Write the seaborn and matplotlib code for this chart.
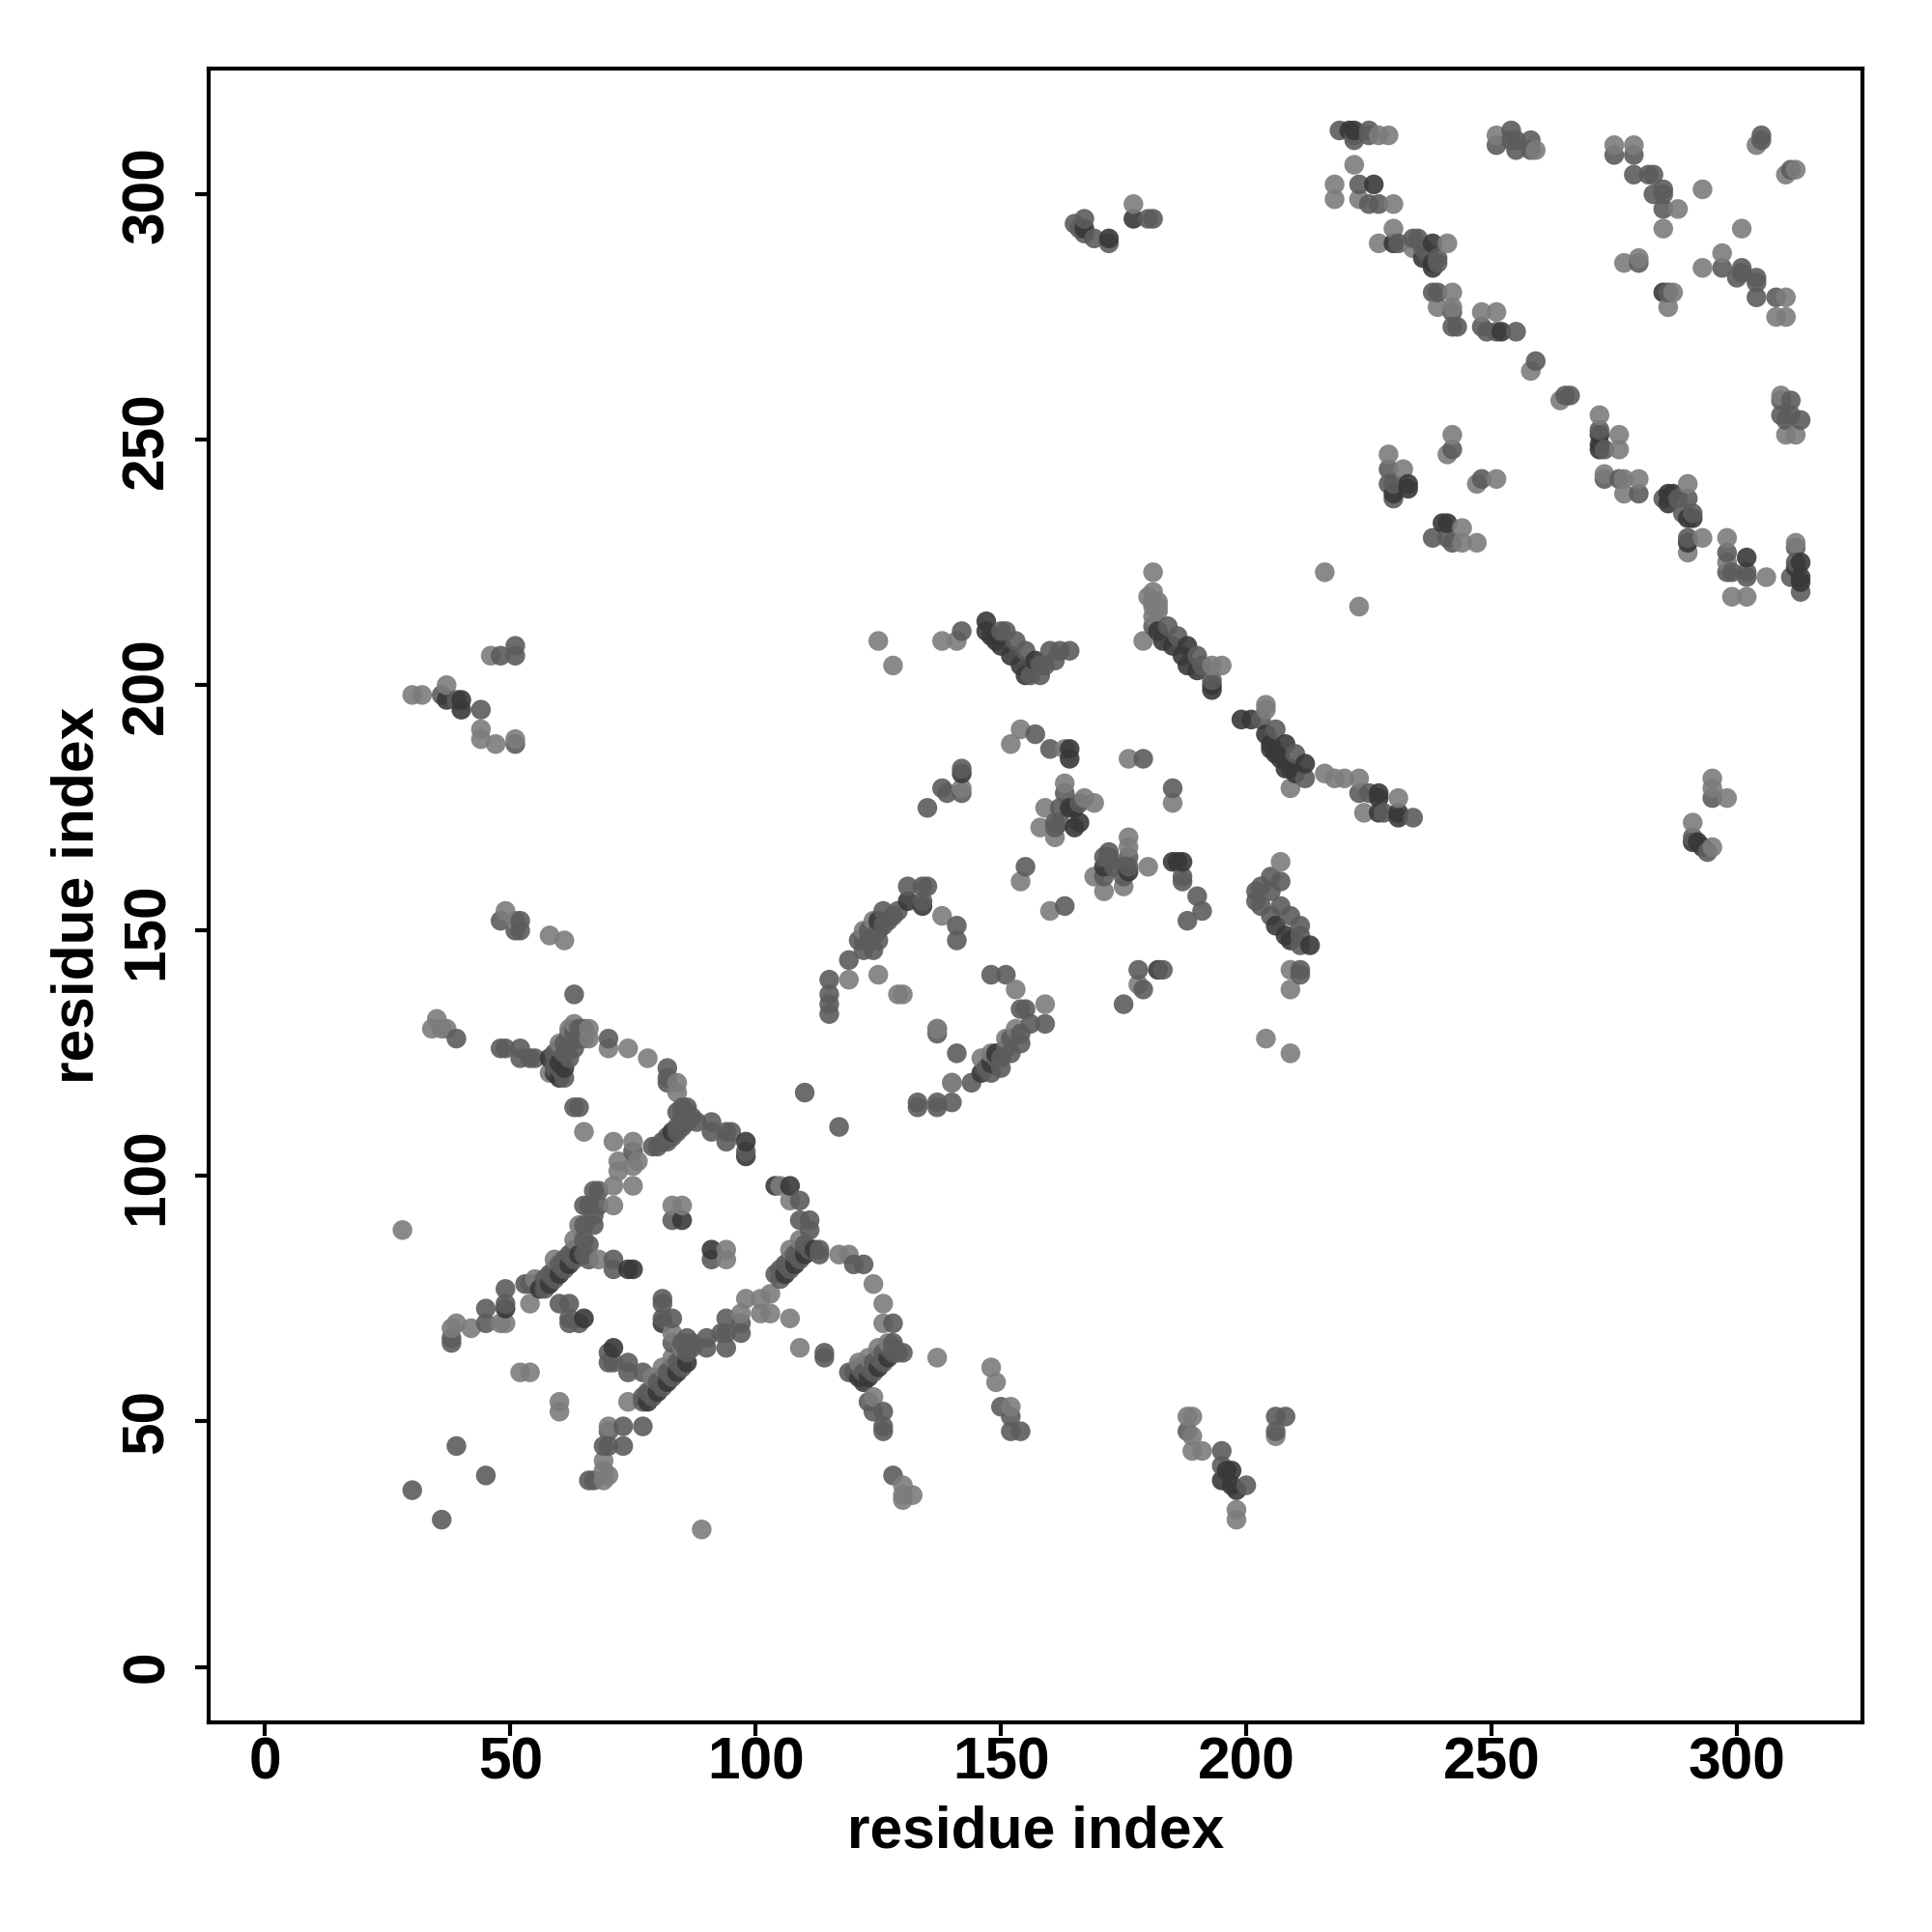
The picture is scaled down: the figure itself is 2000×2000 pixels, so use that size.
# Mapa de contactos entre residuos

import matplotlib
matplotlib.use("Agg")
import matplotlib.pyplot as plt
import pandas as pd
import seaborn as sns

# contactos (residuo i, residuo j), por tono de gris
contactos_claros = [
    (28,89),(35,132),(34,130),(36,130),(37,130),(66,128),(70,126),(74,126),(78,124),(84,119),(84,117),
    (65,109),(71,107),(75,107),(72,103),(76,103),(72,101),(75,102),(71,98),(75,98),(71,94),(64,90),
    (54,74),(68,83),(39,70),(38,69),(42,69),(48,70),(49,70),(52,60),(54,60),(60,54),(60,52),
    (70,49),(74,54),(69,42),(69,40),(70,39),(69,38),(83,68),(98,75),(101,75),(103,76),(101,72),(103,72),
    (107,71),(97,72),(109,65),(117,84),(119,84),(124,78),(126,74),(126,70),(137,63),(124,55),
    (130,37),(130,34),(132,35),(130,35),(89,28),(83,94),(85,94),(94,85),(94,83),(105,98),(107,95),
    (119,140),(129,137),(130,137),(137,130),(140,119),(125,209),(128,204),(138,209),(141,209),
    (182,216),(181,223),(181,219),(182,217),(179,209),(193,204),(195,204),(204,196),(204,195),
    (216,182),(218,181),(220,181),(223,181),(209,179),(224,174),(231,177),(223,216),(216,223),
    (154,191),(152,188),(163,187),(176,185),(185,176),(142,179),(163,180),(167,177),(169,176),(159,175),
    (158,171),(161,169),(176,169),(176,167),(180,163),(169,161),(171,158),(175,159),(154,160),(160,154),
    (138,153),(125,141),(153,138),(159,135),(137,130),(140,119),(204,128),(209,125),(207,164),(209,138),
    (178,139),(209,142),(51,189),(47,188),(44,189),(30,198),(32,198),(37,200),(44,191),(46,206),(51,152),
    (49,154),(58,149),(61,148),(148,61),(149,58),(152,53),(188,51),(189,51),(189,47),(189,44),(191,44),
    (198,32),(198,30),(206,47),(177,298),(222,306),(218,302),(218,299),(223,299),(230,298),(230,293),
    (227,290),(241,290),(234,289),(242,280),(239,277),(242,277),(248,276),(251,276),(259,309),
    (251,312),(275,310),(279,310),(288,297),(285,293),(293,301),(301,293),(277,286),(280,287),(287,280),
    (286,277),(293,285),(297,288),(308,275),(310,275),(310,279),(312,305),(310,304),(304,310),(229,247),
    (232,244),(242,251),(241,247),(247,241),(251,242),(244,232),(244,229),(247,229),(229,312),(227,312),
    (258,264),(264,258),(272,255),(276,251),(276,248),(273,243),(277,242),(280,242),(277,239),(290,241),
    (293,230),(290,227),(298,230),(298,225),(306,222),(299,218),(302,218),(312,229),(309,259),(310,251),
    (312,251),(295,181),(295,179),(298,177),(295,167),(291,172),
    (79,59),(81,61),(83,63),(85,65),(55,79),(59,83),(63,87),(107,85),(109,87),(146,124),(148,125),
    (122,150),(124,152),(60,127),(62,130),(121,62),(123,63),(125,65),(127,66),(181,217),(181,216),
    (182,215),(180,218),(181,214),(153,130),(151,128),(63,131),(66,130),(58,121),
]

contactos_medios = [
    (39,128),(63,137),(48,126),(49,126),(52,126),(52,124),(54,124),(55,124),(59,125),(60,126),(61,125),
    (62,124),(62,127),(63,126),(63,129),(64,128),(64,130),(62,129),(63,130),(65,130),(65,128),(61,127),
    (70,128),(82,122),(82,120),(82,119),(63,114),(64,114),(75,105),(79,106),(80,106),(81,107),(82,107),
    (82,108),(83,108),(84,109),(84,110),(85,110),(85,111),(85,112),(86,111),(86,113),(84,113),(85,114),
    (86,114),(87,112),(88,111),(91,111),(91,109),(94,109),(95,109),(94,107),(98,105),(67,97),(68,97),
    (66,94),(68,94),(65,94),(67,92),(67,90),(65,90),(53,78),(54,78),(55,78),(57,77),(57,79),
    (58,80),(59,79),(59,81),(60,82),(61,81),(61,83),(62,84),(63,83),(63,85),
    (65,84),(65,87),(66,86),(66,83),(71,83),(71,81),(49,77),(49,74),(45,73),(45,70),(38,66),
    (38,67),(60,74),(62,74),(62,70),(62,71),(64,70),(81,75),(81,74),(81,71),(83,71),(83,66),(94,71),
    (104,80),(105,79),(105,81),(106,82),(107,81),(107,83),(108,84),(109,83),(109,85),
    (110,86),(111,85),(113,85),(113,84),(109,95),(109,91),(111,91),(111,89),(120,82),
    (122,82),(128,70),(128,66),(130,64),(128,65),(114,64),(114,63),(119,60),(120,60),(121,61),(122,60),
    (123,61),(124,60),(124,62),(125,63),(126,62),(126,64),(127,65),(128,64),(129,64),(123,54),(124,52),
    (126,52),(126,49),(126,48),(128,39),(70,64),(70,62),(71,62),(74,62),(74,60),(77,55),(78,56),(79,57),
    (80,58),(81,59),(82,60),(83,61),(84,62),(85,63),(86,64),(87,65),(85,66),(86,67),(77,60),(77,54),
    (90,67),(90,65),(93,68),(94,65),(94,68),(97,68),(97,70),(87,66),(70,48),(73,49),(77,49),(73,45),
    (69,45),(70,45),(66,38),(67,38),(39,45),(45,39),(30,36),(36,30),(83,91),(91,83),(115,140),(115,137),
    (115,135),(115,133),(141,125),(133,115),(133,114),(137,115),(137,114),(140,115),(110,117),
    (117,110),(142,211),(150,211),(151,211),(153,209),(155,207),(160,207),(161,205),(164,207),(162,207),
    (158,204),(159,204),(158,202),(156,202),(181,212),(184,212),(186,210),(190,206),(191,204),(193,201),
    (203,193),(206,191),(210,186),(212,181),(223,178),(225,178),(228,174),(234,173),(157,190),(160,187),
    (179,185),(185,179),(142,183),(142,178),(138,179),(139,178),(135,175),(163,178),(162,175),(166,176),
    (161,171),(161,172),(162,172),(172,166),(171,165),(172,165),(173,163),(175,163),(176,163),(171,161),
    (175,161),(176,165),(187,161),(187,160),(190,157),(191,154),(188,152),(155,163),(163,155),(131,159),
    (134,159),(135,159),(134,156),(129,154),(126,154),(127,152),(125,150),(123,150),(125,148),(122,148),
    (121,148),(122,146),(119,144),(141,151),(141,148),(148,141),(151,141),(155,134),(154,134),(159,131),
    (156,131),(154,129),(152,128),(154,127),(151,126),(152,125),(150,124),(150,122),(148,121),(144,119),
    (137,129),(205,161),(203,159),(202,158),(202,156),(205,158),(203,155),(207,160),(207,155),(205,153),
    (209,153),(211,151),(211,149),(211,147),(178,142),(183,142),(179,138),(175,135),(211,142),(211,141),
    (219,313),(225,313),(225,312),(223,302),(225,298),(227,298),(231,290),(234,291),(235,291),(236,289),
    (237,288),(239,287),(239,286),(238,280),(239,280),(242,276),(242,273),(243,273),(248,273),(249,272),
    (251,272),(255,272),(259,266),(265,259),(266,259),(272,252),(273,248),(273,242),(276,242),(280,239),
    (285,238),(288,238),(290,238),(291,235),(289,235),(290,230),(298,227),(298,223),(299,223),(302,223),
    (302,222),(312,228),(312,225),(311,222),(313,219),(309,258),(311,258),(309,255),(310,254),(311,255),
    (313,254),(251,310),(254,313),(254,311),(255,311),(255,309),(258,311),(258,309),(275,308),(279,308),
    (279,304),(282,304),(283,304),(283,300),(285,301),(285,300),(285,297),(280,286),(286,280),(297,285),
    (301,285),(301,284),(300,283),(304,283),(304,282),(304,279),(308,279),(305,312),(305,311),(311,305),
    (229,244),(229,241),(230,241),(230,238),(242,248),(248,242),(238,230),(241,230),(242,229),(222,311),
    (222,312),(48,206),(51,208),(51,206),(51,188),(36,198),(39,197),(44,195),(48,152),(52,152),(52,150),
    (51,150),(150,53),(152,51),(152,48),(154,48),(195,44),(188,48),(195,41),(200,37),(206,51),(208,51),
    (206,48),(165,294),(167,292),(169,291),(172,290),(180,295),(181,295),(295,177),(291,169),(294,166),
    (167,295),(166,293),(79,55),(81,57),(83,59),(85,61),(59,122),(60,122),(61,120),(123,148),(124,149),
    (126,151),(128,153),(147,122),(149,124),(124,146),
]

contactos_oscuros = [
    (58,124),(59,121),(60,120),(60,123),(61,122),(83,109),(98,107),(98,104),
    (49,73),(65,71),(71,65),(81,70),(85,91),(91,85),(104,98),(107,98),(75,81),(74,81),(78,54),
    (80,56),(82,58),(84,60),(86,62),(121,59),(122,58),(123,59),(125,61),
    (127,63),(147,213),(147,211),(148,210),(149,209),(150,208),(152,206),(154,204),(155,202),(157,205),
    (182,211),(183,209),(185,208),(187,206),(188,204),(190,203),(188,208),(193,200),(193,199),(199,193),
    (201,193),(204,190),(205,188),(205,187),(206,186),(207,185),(208,188),(208,183),(209,183),(210,182),
    (212,184),(227,178),(227,177),(227,174),(231,174),(231,173),(164,187),(164,185),(142,182),(164,175),
    (165,175),(165,171),(166,172),(176,162),(171,163),(185,164),(186,164),(187,164),(131,156),(134,155),
    (125,152),(148,123),(146,121),(149,125),(206,151),(208,149),(209,148),(213,147),(182,142),(221,313),
    (222,313),(226,302),(230,290),(238,290),(238,286),(238,285),(236,287),(252,272),(272,251),
    (272,249),(272,248),(286,239),(287,239),(286,237),(290,234),(291,234),(290,229),(302,226),(313,225),
    (312,224),(313,222),(313,221),(285,280),(233,241),(233,240),(230,239),(241,233),(240,233),(40,197),
    (37,197),(40,195),(196,40),(197,40),(195,38),(197,37),(198,36),(172,291),(177,295),(167,293),
    (291,168),(292,168),(293,167),(56,77),(58,78),(60,80),(62,82),(64,84),(106,80),(108,82),(110,84),(112,85),
]

marcas_x = [0, 50, 100, 150, 200, 250, 300]
marcas_y = [0, 50, 100, 150, 200, 250, 300]

# tabla con todos los contactos, ordenada por residuo como en la figura
filas = []
for tono, lista in [("claro", contactos_claros), ("medio", contactos_medios), ("oscuro", contactos_oscuros)]:
    for i, j in lista:
        filas.append({"i": i, "j": j, "tono": tono})
datos = pd.DataFrame(filas).sort_values(["i", "j"], kind="stable")

sns.set_theme(style="white")
plt.rcParams["font.family"] = ["Liberation Sans", "DejaVu Sans"]

fig = plt.figure(figsize=(10, 10), dpi=200)
ax = fig.add_axes([0.108, 0.1085, 0.856, 0.8560])

sns.scatterplot(
    data=datos,
    x="i",
    y="j",
    hue="tono",
    palette={"claro": "#7c7c7c", "medio": "#5c5c5c", "oscuro": "#383838"},
    s=54,
    alpha=0.9,
    linewidth=0,
    legend=False,
    ax=ax,
)

ax.set_xlim(-11.5, 325.6)
ax.set_ylim(-11.3, 325.6)
ax.set_xticks(marcas_x)
ax.set_yticks(marcas_y)
ax.tick_params(axis="both", length=5, width=1.5, color="black", labelcolor="black", labelsize=21.8, bottom=True, left=True)
ax.tick_params(axis="x", pad=0.2)
ax.tick_params(axis="y", pad=7.3)
for etiqueta in ax.get_xticklabels():
    etiqueta.set_fontweight("bold")
for etiqueta in ax.get_yticklabels():
    etiqueta.set_fontweight("bold")
    etiqueta.set_rotation(90)
    etiqueta.set_verticalalignment("center")
ax.set_xlabel("residue index", fontsize=21.8, fontweight="bold", color="black", labelpad=5)
ax.set_ylabel("residue index", fontsize=21.8, fontweight="bold", color="black", labelpad=5.6)
for lado in ax.spines.values():
    lado.set_color("black")
    lado.set_linewidth(1.5)

fig.savefig("out.png", dpi=200)
